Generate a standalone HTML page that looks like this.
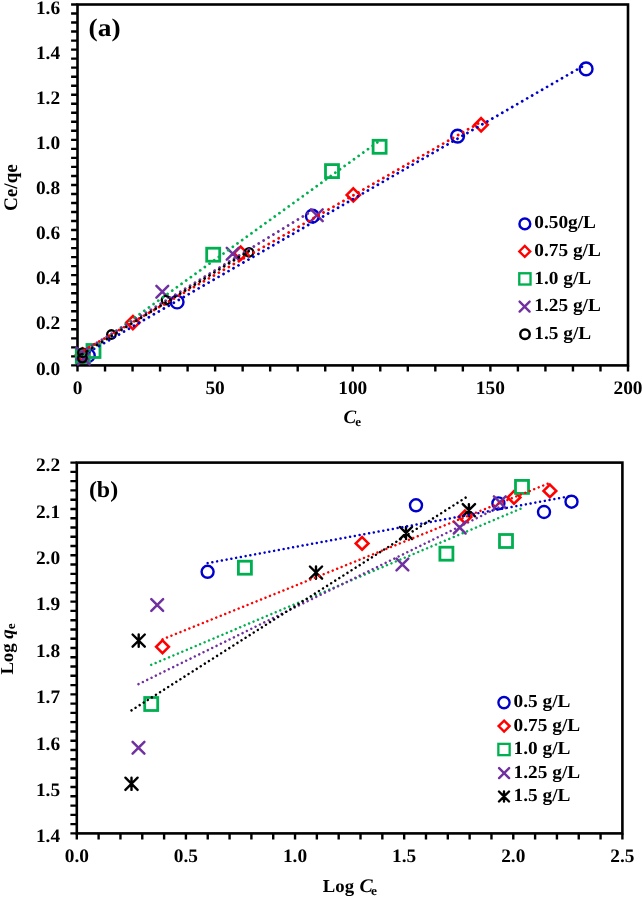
<!DOCTYPE html>
<html><head><meta charset="utf-8"><style>
html,body{margin:0;padding:0;background:#fff;width:642px;height:897px;overflow:hidden}
svg{display:block;will-change:transform} text{text-rendering:geometricPrecision}
</style></head><body>
<svg width="642" height="897" viewBox="0 0 642 897">
<rect width="642" height="897" fill="#fff"/>
<path d="M71.10 4.50H77.50M71.10 13.52H77.50M71.10 22.54H77.50M71.10 31.57H77.50M71.10 40.59H77.50M71.10 49.61H77.50M71.10 58.63H77.50M71.10 67.66H77.50M71.10 76.68H77.50M71.10 85.70H77.50M71.10 94.72H77.50M71.10 103.75H77.50M71.10 112.77H77.50M71.10 121.79H77.50M71.10 130.81H77.50M71.10 139.84H77.50M71.10 148.86H77.50M71.10 157.88H77.50M71.10 166.90H77.50M71.10 175.93H77.50M71.10 184.95H77.50M71.10 193.97H77.50M71.10 202.99H77.50M71.10 212.02H77.50M71.10 221.04H77.50M71.10 230.06H77.50M71.10 239.08H77.50M71.10 248.11H77.50M71.10 257.13H77.50M71.10 266.15H77.50M71.10 275.17H77.50M71.10 284.20H77.50M71.10 293.22H77.50M71.10 302.24H77.50M71.10 311.26H77.50M71.10 320.29H77.50M71.10 329.31H77.50M71.10 338.33H77.50M71.10 347.35H77.50M71.10 356.38H77.50M71.10 365.40H77.50M77.50 365.40V371.40M105.03 365.40V371.40M132.55 365.40V371.40M160.07 365.40V371.40M187.60 365.40V371.40M215.12 365.40V371.40M242.65 365.40V371.40M270.17 365.40V371.40M297.70 365.40V371.40M325.23 365.40V371.40M352.75 365.40V371.40M380.27 365.40V371.40M407.80 365.40V371.40M435.32 365.40V371.40M462.85 365.40V371.40M490.38 365.40V371.40M517.90 365.40V371.40M545.42 365.40V371.40M572.95 365.40V371.40M600.48 365.40V371.40M628.00 365.40V371.40" stroke="#000" stroke-width="2.4" fill="none"/>
<rect x="77.5" y="4.5" width="550.5" height="360.9" fill="none" stroke="#000" stroke-width="2.6"/>
<circle cx="88.30" cy="355.50" r="6.4" fill="none" stroke="#0000CC" stroke-width="2.4"/>
<circle cx="177.10" cy="302.00" r="6.4" fill="none" stroke="#0000CC" stroke-width="2.4"/>
<circle cx="312.40" cy="216.20" r="6.4" fill="none" stroke="#0000CC" stroke-width="2.4"/>
<circle cx="457.60" cy="136.10" r="6.4" fill="none" stroke="#0000CC" stroke-width="2.4"/>
<circle cx="586.10" cy="68.90" r="6.4" fill="none" stroke="#0000CC" stroke-width="2.4"/>
<path d="M82.50 348.40L89.10 355.00L82.50 361.60L75.90 355.00Z" fill="none" stroke="#FF0000" stroke-width="2.6" stroke-linejoin="miter"/>
<path d="M132.90 316.00L139.50 322.60L132.90 329.20L126.30 322.60Z" fill="none" stroke="#FF0000" stroke-width="2.6" stroke-linejoin="miter"/>
<path d="M240.70 246.60L247.30 253.20L240.70 259.80L234.10 253.20Z" fill="none" stroke="#FF0000" stroke-width="2.6" stroke-linejoin="miter"/>
<path d="M353.30 188.30L359.90 194.90L353.30 201.50L346.70 194.90Z" fill="none" stroke="#FF0000" stroke-width="2.6" stroke-linejoin="miter"/>
<path d="M481.10 118.20L487.70 124.80L481.10 131.40L474.50 124.80Z" fill="none" stroke="#FF0000" stroke-width="2.6" stroke-linejoin="miter"/>
<rect x="76.30" y="349.50" width="13.0" height="13.0" fill="none" stroke="#00B050" stroke-width="2.8"/>
<rect x="87.00" y="344.50" width="13.0" height="13.0" fill="none" stroke="#00B050" stroke-width="2.8"/>
<rect x="206.70" y="248.20" width="13.0" height="13.0" fill="none" stroke="#00B050" stroke-width="2.8"/>
<rect x="325.50" y="164.60" width="13.0" height="13.0" fill="none" stroke="#00B050" stroke-width="2.8"/>
<rect x="373.10" y="140.30" width="13.0" height="13.0" fill="none" stroke="#00B050" stroke-width="2.8"/>
<path d="M76.40 347.60L88.20 359.40M88.20 347.60L76.40 359.40" stroke="#7030A0" stroke-width="2.5" stroke-linecap="round" fill="none"/>
<path d="M77.90 352.60L89.70 364.40M89.70 352.60L77.90 364.40" stroke="#7030A0" stroke-width="2.5" stroke-linecap="round" fill="none"/>
<path d="M156.40 285.80L168.20 297.60M168.20 285.80L156.40 297.60" stroke="#7030A0" stroke-width="2.5" stroke-linecap="round" fill="none"/>
<path d="M226.80 247.80L238.60 259.60M238.60 247.80L226.80 259.60" stroke="#7030A0" stroke-width="2.5" stroke-linecap="round" fill="none"/>
<path d="M310.90 209.40L322.70 221.20M322.70 209.40L310.90 221.20" stroke="#7030A0" stroke-width="2.5" stroke-linecap="round" fill="none"/>
<circle cx="82.40" cy="352.70" r="4.25" fill="none" stroke="#000000" stroke-width="2.3"/>
<circle cx="82.40" cy="358.10" r="4.25" fill="none" stroke="#000000" stroke-width="2.3"/>
<circle cx="111.40" cy="334.50" r="4.25" fill="none" stroke="#000000" stroke-width="2.3"/>
<circle cx="166.00" cy="300.10" r="4.25" fill="none" stroke="#000000" stroke-width="2.3"/>
<circle cx="249.10" cy="252.30" r="4.25" fill="none" stroke="#000000" stroke-width="2.3"/>
<line x1="88.30" y1="352.24" x2="586.10" y2="64.32" stroke="#0000CC" stroke-width="2.8" stroke-linecap="round" stroke-dasharray="0.01 5.74" stroke-dashoffset="-1.0"/>
<line x1="82.50" y1="351.11" x2="481.10" y2="121.82" stroke="#FF0000" stroke-width="2.8" stroke-linecap="round" stroke-dasharray="0.01 5.74" stroke-dashoffset="-2.1"/>
<line x1="82.80" y1="355.21" x2="379.60" y2="140.76" stroke="#00B050" stroke-width="2.8" stroke-linecap="round" stroke-dasharray="0.01 5.74" stroke-dashoffset="-1.1"/>
<line x1="82.30" y1="351.78" x2="316.80" y2="207.89" stroke="#7030A0" stroke-width="2.8" stroke-linecap="round" stroke-dasharray="0.01 5.74" stroke-dashoffset="0"/>
<line x1="82.40" y1="354.14" x2="249.10" y2="250.88" stroke="#000000" stroke-width="2.8" stroke-linecap="round" stroke-dasharray="0.01 5.74" stroke-dashoffset="0"/>
<text transform="translate(60.15,374.60) scale(1.02,1)" font-family='"Liberation Serif", serif' font-size="19.0" font-weight="bold" font-style="normal" text-anchor="end" >0.0</text>
<text transform="translate(60.15,329.49) scale(1.02,1)" font-family='"Liberation Serif", serif' font-size="19.0" font-weight="bold" font-style="normal" text-anchor="end" >0.2</text>
<text transform="translate(60.15,284.38) scale(1.02,1)" font-family='"Liberation Serif", serif' font-size="19.0" font-weight="bold" font-style="normal" text-anchor="end" >0.4</text>
<text transform="translate(60.15,239.26) scale(1.02,1)" font-family='"Liberation Serif", serif' font-size="19.0" font-weight="bold" font-style="normal" text-anchor="end" >0.6</text>
<text transform="translate(60.15,194.15) scale(1.02,1)" font-family='"Liberation Serif", serif' font-size="19.0" font-weight="bold" font-style="normal" text-anchor="end" >0.8</text>
<text transform="translate(60.15,149.04) scale(1.02,1)" font-family='"Liberation Serif", serif' font-size="19.0" font-weight="bold" font-style="normal" text-anchor="end" >1.0</text>
<text transform="translate(60.15,103.92) scale(1.02,1)" font-family='"Liberation Serif", serif' font-size="19.0" font-weight="bold" font-style="normal" text-anchor="end" >1.2</text>
<text transform="translate(60.15,58.81) scale(1.02,1)" font-family='"Liberation Serif", serif' font-size="19.0" font-weight="bold" font-style="normal" text-anchor="end" >1.4</text>
<text transform="translate(60.15,13.70) scale(1.02,1)" font-family='"Liberation Serif", serif' font-size="19.0" font-weight="bold" font-style="normal" text-anchor="end" >1.6</text>
<text transform="translate(77.50,393.80) scale(1.02,1)" font-family='"Liberation Serif", serif' font-size="19.0" font-weight="bold" font-style="normal" text-anchor="middle" >0</text>
<text transform="translate(215.12,393.80) scale(1.02,1)" font-family='"Liberation Serif", serif' font-size="19.0" font-weight="bold" font-style="normal" text-anchor="middle" >50</text>
<text transform="translate(352.75,393.80) scale(1.02,1)" font-family='"Liberation Serif", serif' font-size="19.0" font-weight="bold" font-style="normal" text-anchor="middle" >100</text>
<text transform="translate(490.38,393.80) scale(1.02,1)" font-family='"Liberation Serif", serif' font-size="19.0" font-weight="bold" font-style="normal" text-anchor="middle" >150</text>
<text transform="translate(628.00,393.80) scale(1.02,1)" font-family='"Liberation Serif", serif' font-size="19.0" font-weight="bold" font-style="normal" text-anchor="middle" >200</text>
<text transform="translate(88.60,35.70) scale(1.085,1)" font-family='"Liberation Serif", serif' font-size="25.3" font-weight="bold" font-style="normal" text-anchor="start" >(a)</text>
<text transform="translate(16.9,187.6) rotate(-90)" font-family='"Liberation Serif", serif' font-size="19.2" font-weight="bold" text-anchor="middle">Ce/qe</text>
<text x="343.5" y="423.3" font-family='"Liberation Serif", serif' font-size="19" font-weight="bold"><tspan font-style="italic">C</tspan><tspan font-size="13" dx="-0.9" dy="2.2">e</tspan></text>
<circle cx="524.85" cy="223.90" r="5.4" fill="none" stroke="#0000CC" stroke-width="2.45"/>
<path d="M524.75 245.90L530.25 251.40L524.75 256.90L519.25 251.40Z" fill="none" stroke="#FF0000" stroke-width="2.3" stroke-linejoin="miter"/>
<rect x="519.27" y="273.27" width="11.25" height="11.25" fill="none" stroke="#00B050" stroke-width="2.35"/>
<path d="M519.60 301.60L529.60 311.60M529.60 301.60L519.60 311.60" stroke="#7030A0" stroke-width="2.4" stroke-linecap="round" fill="none"/>
<circle cx="525.00" cy="334.30" r="4.75" fill="none" stroke="#000000" stroke-width="2.45"/>
<text transform="translate(534.30,228.10) scale(1.05,1)" font-family='"Liberation Serif", serif' font-size="18.4" font-weight="bold" font-style="normal" text-anchor="start" >0.50g/L</text>
<text transform="translate(534.30,256.10) scale(1.05,1)" font-family='"Liberation Serif", serif' font-size="18.4" font-weight="bold" font-style="normal" text-anchor="start" >0.75 g/L</text>
<text transform="translate(534.30,284.10) scale(1.05,1)" font-family='"Liberation Serif", serif' font-size="18.4" font-weight="bold" font-style="normal" text-anchor="start" >1.0 g/L</text>
<text transform="translate(534.30,311.20) scale(1.05,1)" font-family='"Liberation Serif", serif' font-size="18.4" font-weight="bold" font-style="normal" text-anchor="start" >1.25 g/L</text>
<text transform="translate(534.30,338.80) scale(1.05,1)" font-family='"Liberation Serif", serif' font-size="18.4" font-weight="bold" font-style="normal" text-anchor="start" >1.5 g/L</text>
<path d="M70.40 462.60H76.80M70.40 471.87H76.80M70.40 481.14H76.80M70.40 490.41H76.80M70.40 499.68H76.80M70.40 508.95H76.80M70.40 518.22H76.80M70.40 527.49H76.80M70.40 536.76H76.80M70.40 546.03H76.80M70.40 555.30H76.80M70.40 564.57H76.80M70.40 573.84H76.80M70.40 583.11H76.80M70.40 592.38H76.80M70.40 601.65H76.80M70.40 610.92H76.80M70.40 620.19H76.80M70.40 629.46H76.80M70.40 638.73H76.80M70.40 648.00H76.80M70.40 657.27H76.80M70.40 666.54H76.80M70.40 675.81H76.80M70.40 685.08H76.80M70.40 694.35H76.80M70.40 703.62H76.80M70.40 712.89H76.80M70.40 722.16H76.80M70.40 731.43H76.80M70.40 740.70H76.80M70.40 749.97H76.80M70.40 759.24H76.80M70.40 768.51H76.80M70.40 777.78H76.80M70.40 787.05H76.80M70.40 796.32H76.80M70.40 805.59H76.80M70.40 814.86H76.80M70.40 824.13H76.80M70.40 833.40H76.80M76.80 833.40V839.40M98.62 833.40V839.40M120.45 833.40V839.40M142.27 833.40V839.40M164.10 833.40V839.40M185.92 833.40V839.40M207.74 833.40V839.40M229.57 833.40V839.40M251.39 833.40V839.40M273.22 833.40V839.40M295.04 833.40V839.40M316.86 833.40V839.40M338.69 833.40V839.40M360.51 833.40V839.40M382.34 833.40V839.40M404.16 833.40V839.40M425.98 833.40V839.40M447.81 833.40V839.40M469.63 833.40V839.40M491.46 833.40V839.40M513.28 833.40V839.40M535.10 833.40V839.40M556.93 833.40V839.40M578.75 833.40V839.40M600.58 833.40V839.40M622.40 833.40V839.40" stroke="#000" stroke-width="2.4" fill="none"/>
<rect x="76.8" y="462.6" width="545.6" height="370.79999999999995" fill="none" stroke="#000" stroke-width="2.6"/>
<circle cx="207.60" cy="571.80" r="6.0" fill="none" stroke="#0000CC" stroke-width="2.4"/>
<circle cx="416.00" cy="505.30" r="6.0" fill="none" stroke="#0000CC" stroke-width="2.4"/>
<circle cx="498.40" cy="503.40" r="6.0" fill="none" stroke="#0000CC" stroke-width="2.4"/>
<circle cx="544.00" cy="512.00" r="6.0" fill="none" stroke="#0000CC" stroke-width="2.4"/>
<circle cx="571.50" cy="501.70" r="6.0" fill="none" stroke="#0000CC" stroke-width="2.4"/>
<path d="M162.50 640.45L168.85 646.80L162.50 653.15L156.15 646.80Z" fill="none" stroke="#FF0000" stroke-width="2.6" stroke-linejoin="miter"/>
<path d="M362.10 537.05L368.45 543.40L362.10 549.75L355.75 543.40Z" fill="none" stroke="#FF0000" stroke-width="2.6" stroke-linejoin="miter"/>
<path d="M464.90 510.55L471.25 516.90L464.90 523.25L458.55 516.90Z" fill="none" stroke="#FF0000" stroke-width="2.6" stroke-linejoin="miter"/>
<path d="M514.00 491.05L520.35 497.40L514.00 503.75L507.65 497.40Z" fill="none" stroke="#FF0000" stroke-width="2.6" stroke-linejoin="miter"/>
<path d="M549.90 484.55L556.25 490.90L549.90 497.25L543.55 490.90Z" fill="none" stroke="#FF0000" stroke-width="2.6" stroke-linejoin="miter"/>
<rect x="144.70" y="697.50" width="13.0" height="13.0" fill="none" stroke="#00B050" stroke-width="2.8"/>
<rect x="238.40" y="561.20" width="13.0" height="13.0" fill="none" stroke="#00B050" stroke-width="2.8"/>
<rect x="439.90" y="547.20" width="13.0" height="13.0" fill="none" stroke="#00B050" stroke-width="2.8"/>
<rect x="499.50" y="534.50" width="13.0" height="13.0" fill="none" stroke="#00B050" stroke-width="2.8"/>
<rect x="515.50" y="480.40" width="13.0" height="13.0" fill="none" stroke="#00B050" stroke-width="2.8"/>
<path d="M151.30 599.10L163.10 610.90M163.10 599.10L151.30 610.90" stroke="#7030A0" stroke-width="2.5" stroke-linecap="round" fill="none"/>
<path d="M132.60 741.80L144.40 753.60M144.40 741.80L132.60 753.60" stroke="#7030A0" stroke-width="2.5" stroke-linecap="round" fill="none"/>
<path d="M396.50 558.60L408.30 570.40M408.30 558.60L396.50 570.40" stroke="#7030A0" stroke-width="2.5" stroke-linecap="round" fill="none"/>
<path d="M453.80 521.70L465.60 533.50M465.60 521.70L453.80 533.50" stroke="#7030A0" stroke-width="2.5" stroke-linecap="round" fill="none"/>
<path d="M493.90 496.40L505.70 508.20M505.70 496.40L493.90 508.20" stroke="#7030A0" stroke-width="2.5" stroke-linecap="round" fill="none"/>
<path d="M125.40 777.70L137.60 789.90M137.60 777.70L125.40 789.90M131.50 777.70L131.50 789.90" stroke="#000000" stroke-width="2.4" stroke-linecap="round" fill="none"/>
<path d="M132.60 634.50L144.80 646.70M144.80 634.50L132.60 646.70M138.70 634.50L138.70 646.70" stroke="#000000" stroke-width="2.4" stroke-linecap="round" fill="none"/>
<path d="M309.90 566.50L322.10 578.70M322.10 566.50L309.90 578.70M316.00 566.50L316.00 578.70" stroke="#000000" stroke-width="2.4" stroke-linecap="round" fill="none"/>
<path d="M399.90 526.90L412.10 539.10M412.10 526.90L399.90 539.10M406.00 526.90L406.00 539.10" stroke="#000000" stroke-width="2.4" stroke-linecap="round" fill="none"/>
<path d="M462.80 504.10L475.00 516.30M475.00 504.10L462.80 516.30M468.90 504.10L468.90 516.30" stroke="#000000" stroke-width="2.4" stroke-linecap="round" fill="none"/>
<line x1="207.60" y1="563.14" x2="571.50" y2="495.94" stroke="#0000CC" stroke-width="2.5" stroke-linecap="round" stroke-dasharray="0.01 4.82" stroke-dashoffset="0"/>
<line x1="162.50" y1="639.33" x2="549.90" y2="482.85" stroke="#FF0000" stroke-width="2.5" stroke-linecap="round" stroke-dasharray="0.01 4.82" stroke-dashoffset="0"/>
<line x1="151.20" y1="664.88" x2="522.00" y2="508.15" stroke="#00B050" stroke-width="2.5" stroke-linecap="round" stroke-dasharray="0.01 4.82" stroke-dashoffset="0"/>
<line x1="138.50" y1="684.14" x2="499.80" y2="506.84" stroke="#7030A0" stroke-width="2.5" stroke-linecap="round" stroke-dasharray="0.01 4.82" stroke-dashoffset="0"/>
<line x1="131.50" y1="710.34" x2="468.90" y2="495.58" stroke="#000000" stroke-width="2.5" stroke-linecap="round" stroke-dasharray="0.01 4.82" stroke-dashoffset="0"/>
<text transform="translate(60.10,842.20) scale(1.02,1)" font-family='"Liberation Serif", serif' font-size="19.0" font-weight="bold" font-style="normal" text-anchor="end" >1.4</text>
<text transform="translate(60.10,795.85) scale(1.02,1)" font-family='"Liberation Serif", serif' font-size="19.0" font-weight="bold" font-style="normal" text-anchor="end" >1.5</text>
<text transform="translate(60.10,749.50) scale(1.02,1)" font-family='"Liberation Serif", serif' font-size="19.0" font-weight="bold" font-style="normal" text-anchor="end" >1.6</text>
<text transform="translate(60.10,703.15) scale(1.02,1)" font-family='"Liberation Serif", serif' font-size="19.0" font-weight="bold" font-style="normal" text-anchor="end" >1.7</text>
<text transform="translate(60.10,656.80) scale(1.02,1)" font-family='"Liberation Serif", serif' font-size="19.0" font-weight="bold" font-style="normal" text-anchor="end" >1.8</text>
<text transform="translate(60.10,610.45) scale(1.02,1)" font-family='"Liberation Serif", serif' font-size="19.0" font-weight="bold" font-style="normal" text-anchor="end" >1.9</text>
<text transform="translate(60.10,564.10) scale(1.02,1)" font-family='"Liberation Serif", serif' font-size="19.0" font-weight="bold" font-style="normal" text-anchor="end" >2.0</text>
<text transform="translate(60.10,517.75) scale(1.02,1)" font-family='"Liberation Serif", serif' font-size="19.0" font-weight="bold" font-style="normal" text-anchor="end" >2.1</text>
<text transform="translate(60.10,471.40) scale(1.02,1)" font-family='"Liberation Serif", serif' font-size="19.0" font-weight="bold" font-style="normal" text-anchor="end" >2.2</text>
<text transform="translate(76.80,861.80) scale(1.02,1)" font-family='"Liberation Serif", serif' font-size="19.0" font-weight="bold" font-style="normal" text-anchor="middle" >0.0</text>
<text transform="translate(185.92,861.80) scale(1.02,1)" font-family='"Liberation Serif", serif' font-size="19.0" font-weight="bold" font-style="normal" text-anchor="middle" >0.5</text>
<text transform="translate(295.04,861.80) scale(1.02,1)" font-family='"Liberation Serif", serif' font-size="19.0" font-weight="bold" font-style="normal" text-anchor="middle" >1.0</text>
<text transform="translate(404.16,861.80) scale(1.02,1)" font-family='"Liberation Serif", serif' font-size="19.0" font-weight="bold" font-style="normal" text-anchor="middle" >1.5</text>
<text transform="translate(513.28,861.80) scale(1.02,1)" font-family='"Liberation Serif", serif' font-size="19.0" font-weight="bold" font-style="normal" text-anchor="middle" >2.0</text>
<text transform="translate(622.40,861.80) scale(1.02,1)" font-family='"Liberation Serif", serif' font-size="19.0" font-weight="bold" font-style="normal" text-anchor="middle" >2.5</text>
<text transform="translate(88.90,496.60) scale(1.04,1)" font-family='"Liberation Serif", serif' font-size="23" font-weight="bold" font-style="normal" text-anchor="start" >(b)</text>
<text transform="translate(13.4,649.0) rotate(-90) scale(1.03,1)" font-family='"Liberation Serif", serif' font-size="18.2" font-weight="bold" text-anchor="middle">Log <tspan font-style="italic">q</tspan><tspan font-size="13" dy="1.6">e</tspan></text>
<text transform="translate(322.8,891.9) scale(1.03,1)" font-family='"Liberation Serif", serif' font-size="18.2" font-weight="bold">Log <tspan font-style="italic" font-size="19.2" dx="0.7" dy="0.4">C</tspan><tspan font-size="13" dx="-1.6" dy="2.2">e</tspan></text>
<circle cx="504.00" cy="702.60" r="5.6" fill="none" stroke="#0000CC" stroke-width="2.35"/>
<path d="M504.10 720.60L509.60 726.10L504.10 731.60L498.60 726.10Z" fill="none" stroke="#FF0000" stroke-width="2.4" stroke-linejoin="miter"/>
<rect x="498.35" y="743.85" width="11.3" height="11.3" fill="none" stroke="#00B050" stroke-width="2.3"/>
<path d="M499.10 768.10L509.10 778.10M509.10 768.10L499.10 778.10" stroke="#7030A0" stroke-width="2.4" stroke-linecap="round" fill="none"/>
<path d="M499.00 791.50L509.00 801.50M509.00 791.50L499.00 801.50M504.00 791.50L504.00 801.50" stroke="#000000" stroke-width="2.4" stroke-linecap="round" fill="none"/>
<text transform="translate(513.60,707.30) scale(1.05,1)" font-family='"Liberation Serif", serif' font-size="18.4" font-weight="bold" font-style="normal" text-anchor="start" >0.5 g/L</text>
<text transform="translate(513.60,730.70) scale(1.05,1)" font-family='"Liberation Serif", serif' font-size="18.4" font-weight="bold" font-style="normal" text-anchor="start" >0.75 g/L</text>
<text transform="translate(513.60,754.00) scale(1.05,1)" font-family='"Liberation Serif", serif' font-size="18.4" font-weight="bold" font-style="normal" text-anchor="start" >1.0 g/L</text>
<text transform="translate(513.60,777.50) scale(1.05,1)" font-family='"Liberation Serif", serif' font-size="18.4" font-weight="bold" font-style="normal" text-anchor="start" >1.25 g/L</text>
<text transform="translate(513.60,800.70) scale(1.05,1)" font-family='"Liberation Serif", serif' font-size="18.4" font-weight="bold" font-style="normal" text-anchor="start" >1.5 g/L</text>
</svg>
</body></html>
